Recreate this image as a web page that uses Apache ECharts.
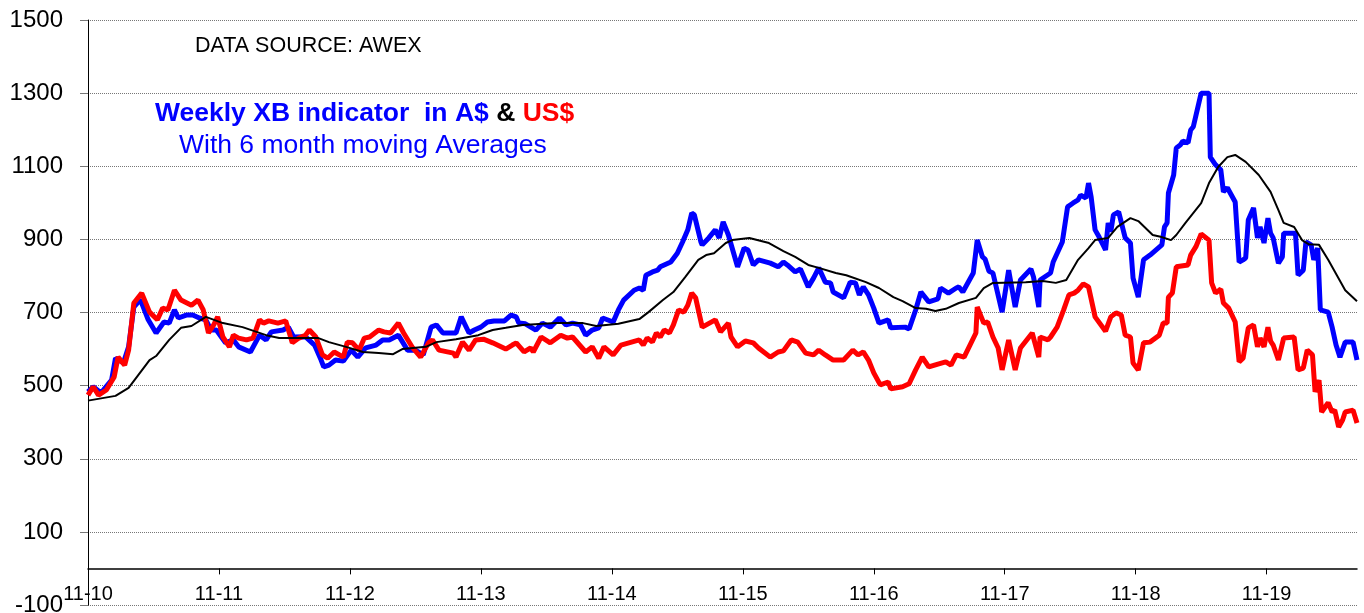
<!DOCTYPE html>
<html>
<head>
<meta charset="utf-8">
<script src="https://cdn.jsdelivr.net/npm/echarts@6/dist/echarts.min.js"></script>
<style>
  html, body { margin: 0; padding: 0; background: #fff; }
  #chart { width: 1364px; height: 613px; }
</style>
</head>
<body>
<div id="chart"></div>
<script>
// x = years since Nov 2010 (weekly AWEX readings), y = XB indicator value
const yearLabels = ['11-10', '11-11', '11-12', '11-13', '11-14', '11-15', '11-16', '11-17', '11-18', '11-19'];

// Weekly XB indicator in A$ (blue)
const audWeekly = [
  [0.00,483],[0.04,497],[0.10,480],[0.18,515],[0.21,575],[0.27,562],[0.31,606],[0.35,715],[0.40,735],[0.46,680],
  [0.52,644],[0.58,674],[0.62,671],[0.66,707],[0.69,685],[0.75,693],[0.80,693],[0.85,685],[0.90,680],[0.94,652],
  [0.98,652],[1.05,617],[1.11,625],[1.15,606],[1.24,592],[1.31,638],[1.36,625],[1.40,647],[1.49,652],[1.53,660],
  [1.57,633],[1.66,634],[1.73,611],[1.78,570],[1.80,551],[1.84,556],[1.89,570],[1.95,567],[2.01,597],[2.06,578],
  [2.12,603],[2.20,611],[2.25,625],[2.30,625],[2.37,638],[2.44,597],[2.50,597],[2.56,584],[2.62,660],[2.66,666],
  [2.71,644],[2.81,644],[2.85,688],[2.91,644],[2.95,652],[3.00,660],[3.05,674],[3.10,677],[3.18,677],[3.23,693],
  [3.27,688],[3.29,671],[3.34,669],[3.42,652],[3.47,671],[3.53,660],[3.60,685],[3.65,666],[3.70,671],[3.76,666],
  [3.80,638],[3.85,652],[3.90,658],[3.93,685],[4.01,674],[4.05,707],[4.09,734],[4.17,761],[4.21,767],[4.24,761],
  [4.26,802],[4.31,811],[4.35,816],[4.37,825],[4.45,838],[4.50,862],[4.54,893],[4.58,926],[4.61,972],[4.63,967],
  [4.68,893],[4.69,885],[4.74,904],[4.79,926],[4.82,904],[4.85,948],[4.89,912],[4.96,825],[5.01,876],[5.04,871],
  [5.08,830],[5.12,844],[5.21,835],[5.27,825],[5.31,838],[5.34,830],[5.40,811],[5.44,819],[5.50,770],[5.54,794],
  [5.58,822],[5.63,783],[5.67,781],[5.69,756],[5.77,740],[5.82,783],[5.86,781],[5.89,748],[5.92,770],[5.96,748],
  [6.00,712],[6.04,671],[6.11,680],[6.13,658],[6.24,660],[6.27,655],[6.32,707],[6.36,756],[6.42,729],[6.49,737],
  [6.51,767],[6.57,753],[6.63,767],[6.65,770],[6.68,756],[6.76,808],[6.79,898],[6.83,852],[6.85,846],[6.88,813],
  [6.91,808],[6.98,701],[7.03,816],[7.08,715],[7.12,789],[7.20,819],[7.22,797],[7.26,715],[7.27,789],[7.35,808],
  [7.37,838],[7.44,893],[7.48,989],[7.52,999],[7.56,1008],[7.58,1021],[7.62,1013],[7.64,1054],[7.66,1016],[7.69,926],
  [7.72,907],[7.77,871],[7.79,945],[7.81,921],[7.83,967],[7.87,975],[7.92,904],[7.96,890],[7.98,794],[8.02,742],
  [8.06,844],[8.11,857],[8.20,885],[8.22,934],[8.24,945],[8.25,1027],[8.29,1076],[8.31,1150],[8.34,1158],[8.36,1169],
  [8.40,1164],[8.42,1199],[8.44,1208],[8.50,1300],[8.56,1300],[8.57,1125],[8.61,1104],[8.65,1090],[8.67,1030],[8.70,1041],
  [8.76,1002],[8.79,838],[8.82,844],[8.84,849],[8.86,953],[8.90,986],[8.93,904],[8.95,934],[8.98,890],[9.01,958],
  [9.03,917],[9.05,904],[9.09,835],[9.12,852],[9.13,917],[9.22,917],[9.24,802],[9.28,816],[9.30,893],[9.34,885],
  [9.36,844],[9.39,876],[9.41,707],[9.47,701],[9.50,660],[9.53,611],[9.56,578],[9.60,619],[9.66,619],[9.69,570]
];

// Weekly XB indicator in US$ (red)
const usdWeekly = [
  [0.00,474],[0.04,497],[0.08,474],[0.14,488],[0.20,524],[0.23,578],[0.28,556],[0.31,597],[0.35,726],[0.41,753],
  [0.47,701],[0.53,680],[0.57,712],[0.61,707],[0.66,761],[0.71,734],[0.79,720],[0.84,734],[0.88,707],[0.92,644],
  [0.96,666],[0.99,688],[1.03,633],[1.08,606],[1.11,638],[1.15,630],[1.21,625],[1.26,630],[1.31,680],[1.34,671],
  [1.38,677],[1.45,671],[1.51,677],[1.56,617],[1.61,630],[1.66,638],[1.69,652],[1.74,633],[1.79,584],[1.83,575],
  [1.88,592],[1.95,578],[1.98,619],[2.02,617],[2.07,597],[2.11,630],[2.15,633],[2.22,652],[2.26,647],[2.31,644],
  [2.37,671],[2.41,644],[2.48,603],[2.54,578],[2.60,617],[2.63,625],[2.68,597],[2.79,589],[2.81,578],[2.86,619],
  [2.91,597],[2.96,625],[3.02,627],[3.09,617],[3.19,600],[3.24,611],[3.27,617],[3.33,592],[3.38,603],[3.40,592],
  [3.46,633],[3.53,617],[3.61,638],[3.66,630],[3.70,633],[3.80,592],[3.85,606],[3.90,575],[3.94,606],[4.01,584],
  [4.07,611],[4.21,625],[4.24,611],[4.27,630],[4.31,619],[4.34,644],[4.37,633],[4.40,652],[4.44,644],[4.47,666],
  [4.51,707],[4.55,701],[4.58,720],[4.61,753],[4.64,740],[4.69,660],[4.79,680],[4.83,647],[4.89,671],[4.91,633],
  [4.96,606],[5.02,622],[5.08,617],[5.12,603],[5.21,578],[5.27,592],[5.31,595],[5.37,625],[5.42,619],[5.48,589],
  [5.54,584],[5.58,597],[5.63,584],[5.69,570],[5.77,570],[5.84,597],[5.88,584],[5.92,592],[5.96,570],[6.00,535],
  [6.05,502],[6.11,510],[6.13,491],[6.22,497],[6.27,505],[6.32,543],[6.37,578],[6.42,551],[6.49,559],[6.55,565],
  [6.59,556],[6.63,584],[6.69,578],[6.78,644],[6.79,715],[6.84,671],[6.87,674],[6.91,633],[6.95,603],[6.98,543],
  [7.03,625],[7.08,543],[7.12,603],[7.21,644],[7.26,578],[7.27,633],[7.33,625],[7.35,633],[7.40,660],[7.45,707],
  [7.49,748],[7.53,753],[7.56,761],[7.60,778],[7.64,770],[7.69,688],[7.77,649],[7.81,688],[7.85,699],[7.89,693],
  [7.92,638],[7.96,633],[7.98,562],[8.02,543],[8.06,617],[8.11,619],[8.18,638],[8.21,671],[8.24,671],[8.25,742],
  [8.28,753],[8.31,825],[8.40,830],[8.42,857],[8.46,880],[8.50,915],[8.56,898],[8.58,781],[8.61,753],[8.65,764],
  [8.67,726],[8.71,712],[8.76,674],[8.79,565],[8.82,575],[8.86,658],[8.90,666],[8.93,606],[8.95,630],[8.98,606],
  [9.01,660],[9.03,622],[9.05,611],[9.09,570],[9.13,630],[9.21,633],[9.24,543],[9.28,548],[9.31,597],[9.35,584],
  [9.37,483],[9.40,515],[9.42,428],[9.47,453],[9.50,428],[9.52,433],[9.55,387],[9.58,406],[9.60,428],[9.66,433],
  [9.69,398]
];

// 6 month moving average (black)
const audMovingAvg = [
  [0.00,459],[0.21,472],[0.31,494],[0.47,570],[0.52,581],[0.62,625],[0.71,658],[0.79,663],[0.90,688],[1.03,671],
  [1.18,660],[1.36,638],[1.46,630],[1.76,630],[1.84,619],[1.97,606],[2.10,592],[2.22,589],[2.33,586],[2.40,600],
  [2.58,606],[2.66,619],[2.81,627],[2.98,638],[3.09,652],[3.19,658],[3.32,666],[3.57,671],[3.78,671],[3.88,663],
  [4.05,669],[4.21,682],[4.28,701],[4.39,734],[4.47,756],[4.56,797],[4.66,844],[4.72,857],[4.78,862],[4.87,890],
  [4.92,898],[5.05,904],[5.20,890],[5.31,868],[5.40,852],[5.50,830],[5.58,822],[5.71,808],[5.79,802],[5.94,783],
  [6.04,767],[6.15,742],[6.22,731],[6.32,712],[6.40,710],[6.47,704],[6.55,710],[6.65,726],[6.78,740],[6.84,767],
  [6.91,781],[7.16,783],[7.29,786],[7.39,781],[7.47,789],[7.56,844],[7.64,876],[7.69,898],[7.79,904],[7.86,934],
  [7.96,958],[8.02,950],[8.13,912],[8.19,907],[8.27,898],[8.31,912],[8.38,945],[8.50,999],[8.56,1054],[8.63,1098],
  [8.70,1125],[8.76,1131],[8.84,1112],[8.94,1076],[9.03,1030],[9.09,980],[9.13,945],[9.21,934],[9.27,898],[9.32,887],
  [9.40,885],[9.47,844],[9.60,761],[9.69,731]
];

const font = '"Liberation Sans", Arial, sans-serif';

const chart = echarts.init(document.getElementById('chart'));

chart.setOption({
  animation: false,
  backgroundColor: '#ffffff',
  grid: { left: 88, right: 7, top: 20, bottom: 8, containLabel: false, outerBoundsMode: 'none' },
  xAxis: {
    type: 'value',
    min: 0,
    max: 9.69,
    interval: 1,
    // the time axis sits on the zero line (100 units above the -100 floor)
    offset: -36.6,
    axisLine: { onZero: false, lineStyle: { color: '#000', width: 1.5 } },
    axisTick: { show: true, length: 6, lineStyle: { color: '#000' } },
    axisLabel: {
      margin: 16,
      fontSize: 20,
      color: '#000',
      fontFamily: font,
      showMaxLabel: false,
      formatter: v => yearLabels[v] ?? ''
    },
    splitLine: { show: false }
  },
  yAxis: {
    type: 'value',
    min: -100,
    max: 1500,
    interval: 200,
    axisLine: { show: true, onZero: false, lineStyle: { color: '#000', width: 1 } },
    axisTick: { show: true, length: 8, lineStyle: { color: '#777' } },
    axisLabel: { margin: 25, fontSize: 24, color: '#000', fontFamily: font, formatter: v => String(v) },
    splitLine: { show: true, lineStyle: { color: '#777', type: 'dotted', width: 1 } }
  },
  graphic: [
    {
      type: 'text', left: 195, top: 35,
      style: { text: 'DATA SOURCE: AWEX', font: '21.5px ' + font, fill: '#000' }
    },
    {
      type: 'text', left: 155, top: 100,
      style: {
        text: '{a|Weekly XB indicator  in A$ }{b|& }{c|US$}',
        rich: {
          a: { font: 'bold 26.5px ' + font, fill: '#0000ff' },
          b: { font: 'bold 26.5px ' + font, fill: '#000' },
          c: { font: 'bold 26.5px ' + font, fill: '#ff0000' }
        }
      }
    },
    {
      type: 'text', left: 179, top: 132,
      style: { text: 'With 6 month moving Averages', font: '26.5px ' + font, fill: '#0000ff' }
    }
  ],
  series: [
    {
      name: 'A$', type: 'line', data: audWeekly, showSymbol: false,
      lineStyle: { color: '#0000ff', width: 5 }, z: 2
    },
    {
      name: 'US$', type: 'line', data: usdWeekly, showSymbol: false,
      lineStyle: { color: '#ff0000', width: 5 }, z: 3
    },
    {
      name: '6 month MA', type: 'line', data: audMovingAvg, showSymbol: false,
      lineStyle: { color: '#000', width: 2 }, z: 4
    }
  ]
});
</script>
</body>
</html>
